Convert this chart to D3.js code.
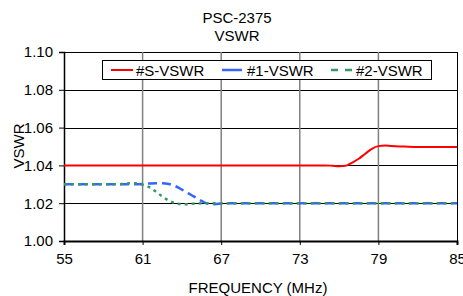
<!DOCTYPE html>
<html>
<head>
<meta charset="utf-8">
<script src="https://cdn.jsdelivr.net/npm/d3@7"></script>
<style>
body { margin: 0; background: #fff; }
text { font-family: Arial, "Liberation Sans", sans-serif; fill: #000; }
</style>
</head>
<body>
<script>
// data
var titleLines = ["PSC-2375", "VSWR"];
var xTicks = [55, 61, 67, 73, 79, 85];
var yTicks = [1.00, 1.02, 1.04, 1.06, 1.08, 1.10];
var seriesNames = ["#S-VSWR", "#1-VSWR", "#2-VSWR"];

var freqS = [55, 60, 65, 70, 74, 75, 75.5, 76, 76.5, 77, 77.5, 78, 78.5, 79, 79.5, 80, 81, 82, 83, 84, 85];
var vswrS = [1.04, 1.04, 1.04, 1.04, 1.04, 1.04, 1.0398, 1.0396, 1.0398, 1.0415, 1.0435, 1.0462, 1.0488, 1.0502, 1.0505, 1.0502, 1.05, 1.0498, 1.0498, 1.0497, 1.0497];

var freq1 = [55, 57, 59, 60, 61, 61.5, 62, 62.5, 63, 63.5, 64, 64.5, 65, 65.5, 66, 66.5, 67, 67.5, 68, 70, 75, 80, 85];
var vswr1 = [1.03, 1.03, 1.03, 1.03, 1.0302, 1.0304, 1.0306, 1.0306, 1.0302, 1.029, 1.0272, 1.0252, 1.0232, 1.0212, 1.0197, 1.0195, 1.0198, 1.02, 1.02, 1.02, 1.02, 1.02, 1.02];

var freq2 = [55, 57, 59, 59.5, 60, 60.5, 61, 61.5, 62, 62.5, 63, 63.5, 64, 64.5, 65, 66, 67, 70, 75, 80, 85];
var vswr2 = [1.03, 1.03, 1.03, 1.0302, 1.0305, 1.0305, 1.0298, 1.0285, 1.0262, 1.0236, 1.0214, 1.02, 1.0195, 1.0195, 1.0198, 1.02, 1.02, 1.02, 1.02, 1.02, 1.02];

var width = 463, height = 296;
var plotLeft = 64, plotRight = 457, plotTop = 52, plotBottom = 241;

var svg = d3.select("body").append("svg").attr("width", width).attr("height", height);

var scaleX = d3.scaleLinear().domain([55, 85]).range([plotLeft, plotRight]);
var scaleY = d3.scaleLinear().domain([1.00, 1.10]).range([plotBottom, plotTop]);

// title
svg.selectAll("text.title").data(titleLines).enter().append("text")
    .attr("class", "title")
    .attr("x", 237).attr("y", function(d, i){ return 23 + i * 18; })
    .attr("text-anchor", "middle").attr("font-size", "15px")
    .text(function(d){ return d; });

// horizontal grid
svg.selectAll("line.hgrid").data(yTicks).enter().append("line")
    .attr("x1", plotLeft).attr("x2", plotRight)
    .attr("y1", function(d){ return Math.round(scaleY(d)) + 0.5; }).attr("y2", function(d){ return Math.round(scaleY(d)) + 0.5; })
    .attr("stroke", "#000").attr("stroke-width", 1);

// vertical grid (gray)
svg.selectAll("line.vgrid").data(xTicks.slice(1, -1)).enter().append("line")
    .attr("x1", function(d){ return scaleX(d); }).attr("x2", function(d){ return scaleX(d); })
    .attr("y1", plotTop).attr("y2", plotBottom)
    .attr("stroke", "#808080").attr("stroke-width", 1.5);

// right border
svg.append("line").attr("x1", plotRight + 0.5).attr("x2", plotRight + 0.5).attr("y1", plotTop).attr("y2", plotBottom)
    .attr("stroke", "#000").attr("stroke-width", 1);

// axes
var xAxis = svg.append("g").attr("transform", "translate(0," + plotBottom + ")")
    .call(d3.axisBottom(scaleX).tickValues(xTicks).tickSize(4).tickPadding(8).tickFormat(d3.format("d")));
var yAxis = svg.append("g").attr("transform", "translate(" + plotLeft + ",0)")
    .call(d3.axisLeft(scaleY).tickValues(yTicks).tickSize(5).tickPadding(6).tickFormat(d3.format(".2f")));
[xAxis, yAxis].forEach(function(g){
    g.select(".domain").attr("stroke", "#000").attr("stroke-width", 1.5);
    g.selectAll(".tick line").attr("stroke", "#000");
    g.selectAll("text").attr("font-size", "15px").attr("font-family", "Arial, 'Liberation Sans', sans-serif").attr("fill", "#000");
});
xAxis.select(".domain").attr("stroke-width", 2);

// axis titles
svg.append("text").attr("x", 258).attr("y", 293).attr("text-anchor", "middle")
    .attr("font-size", "15px").text("FREQUENCY (MHz)");
svg.append("text").attr("transform", "translate(24,146) rotate(-90)").attr("text-anchor", "middle")
    .attr("font-size", "15px").text("VSWR");

// series
var series = [
    {name: seriesNames[0], x: freqS, y: vswrS, color: "#ff0000", dash: null, legendDash: null, w: 2},
    {name: seriesNames[1], x: freq1, y: vswr1, color: "#3366ff", dash: "9,5", legendDash: "20,3", w: 2.5},
    {name: seriesNames[2], x: freq2, y: vswr2, color: "#339966", dash: "3,4", legendDash: "7,7", w: 2.5}
];
var line = d3.line().curve(d3.curveMonotoneX)
    .x(function(d){ return scaleX(d[0]); }).y(function(d){ return scaleY(d[1]); });

// draw order: blue, green, red on top
svg.selectAll("path.series").data([series[1], series[2], series[0]]).enter().append("path")
    .attr("class", "series")
    .attr("d", function(s){ return line(s.x.map(function(v, i){ return [v, s.y[i]]; })); })
    .attr("fill", "none").attr("stroke", function(s){ return s.color; })
    .attr("stroke-width", function(s){ return s.w; })
    .attr("stroke-dasharray", function(s){ return s.dash; });

// legend
var legend = svg.append("g");
legend.append("rect").attr("x", 102.5).attr("y", 60.5).attr("width", 329).attr("height", 19)
    .attr("fill", "#fff").attr("stroke", "#000").attr("stroke-width", 1);
var legendX = [111, 222, 331];
var items = legend.selectAll("g.item").data(series).enter().append("g")
    .attr("transform", function(d, i){ return "translate(" + legendX[i] + ",70)"; });
items.append("line").attr("x1", 0).attr("x2", 22).attr("y1", 0).attr("y2", 0)
    .attr("stroke", function(s){ return s.color; })
    .attr("stroke-width", function(s){ return s.w; })
    .attr("stroke-dasharray", function(s){ return s.legendDash; });
items.append("text").attr("x", 25).attr("y", 5.5).attr("font-size", "15px")
    .text(function(s){ return s.name; });
</script>
</body>
</html>
